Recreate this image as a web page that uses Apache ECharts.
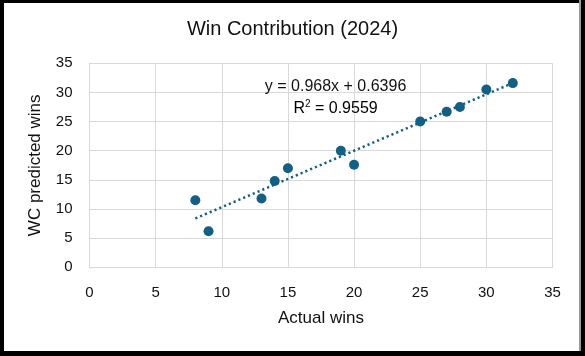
<!DOCTYPE html>
<html>
<head>
<meta charset="utf-8">
<script src="https://cdn.jsdelivr.net/npm/echarts@6/dist/echarts.min.js"></script>
<style>
html,body{margin:0;padding:0;background:#fff;}
#c{width:585px;height:356px;}
</style>
</head>
<body>
<div id="c"></div>
<script>
// Data
const actualWins    = [8, 9, 13, 14, 15, 19, 20, 25, 27, 28, 30, 32];
const predictedWins = [11.5, 6.2, 11.8, 14.8, 17.0, 20.0, 17.6, 25.0, 26.7, 27.5, 30.5, 31.6];
const xTicks = [0, 5, 10, 15, 20, 25, 30, 35];
const yTicks = [0, 5, 10, 15, 20, 25, 30, 35];
// Trendline coefficients as printed on the chart
const trendSlope = 0.968;
const trendIntercept = 0.6396;
const trendR2 = 0.9559;

const FONT = '"Liberation Sans", Arial, sans-serif';
const TEXT = '#111';
const GRID = '#d9d9d9';
const MARK = '#156082';

const points = actualWins.map((x, i) => [x, predictedWins[i]]);
const xMinD = Math.min(...actualWins), xMaxD = Math.max(...actualWins);
const trend = [[xMinD, trendSlope * xMinD + trendIntercept], [xMaxD, trendSlope * xMaxD + trendIntercept]];

const chart = echarts.init(document.getElementById('c'), null, {renderer: 'canvas'});
chart.setOption({
  animation: false,
  backgroundColor: '#fff',
  title: {
    text: 'Win Contribution (2024)',
    left: 'center', top: 14,
    textStyle: {fontFamily: FONT, fontSize: 20, fontWeight: 'normal', color: TEXT}
  },
  grid: {left: 89.5, right: 32.5, top: 63.3, bottom: 88.7, containLabel: false},
  xAxis: {
    type: 'value', min: xTicks[0], max: xTicks[xTicks.length - 1], interval: 5,
    name: 'Actual wins', nameLocation: 'middle', nameGap: 43,
    nameTextStyle: {fontFamily: FONT, fontSize: 17, color: TEXT},
    axisLine: {show: true, lineStyle: {color: GRID, width: 1}},
    axisTick: {show: false},
    axisLabel: {fontFamily: FONT, fontSize: 15, color: TEXT, margin: 18},
    splitLine: {show: true, lineStyle: {color: GRID, width: 1}}
  },
  yAxis: {
    type: 'value', min: yTicks[0], max: yTicks[yTicks.length - 1], interval: 5,
    name: 'WC predicted wins', nameLocation: 'middle', nameGap: 46,
    nameTextStyle: {fontFamily: FONT, fontSize: 17, color: TEXT},
    axisLine: {show: true, lineStyle: {color: GRID, width: 1}},
    axisTick: {show: false},
    axisLabel: {fontFamily: FONT, fontSize: 15, color: TEXT, margin: 17},
    splitLine: {show: true, lineStyle: {color: GRID, width: 1}}
  },
  series: [
    {
      type: 'line', data: trend, showSymbol: false, silent: true,
      lineStyle: {color: MARK, width: 2.5, type: [2.2, 3], cap: 'butt'},
      z: 2
    },
    {
      type: 'scatter', data: points, symbol: 'circle', symbolSize: 10,
      itemStyle: {color: MARK, opacity: 1}, z: 3
    }
  ]
});

// Equation label placed in data space via the chart's own converter
const eqPos = chart.convertToPixel({gridIndex: 0}, [18.6, 31.0]);
const r2Pos = chart.convertToPixel({gridIndex: 0}, [18.6, 27.3]);
chart.setOption({
  graphic: [
    {type: 'text', z: 10, silent: true, style: {text: 'y = ' + trendSlope + 'x + ' + trendIntercept, x: eqPos[0], y: eqPos[1], align: 'center', verticalAlign: 'middle', fontFamily: FONT, fontSize: 16, fill: TEXT}},
    {type: 'text', z: 10, silent: true, style: {text: '{n|R}{s|2}{n| = ' + trendR2 + '}', x: r2Pos[0], y: r2Pos[1], align: 'center', verticalAlign: 'middle', rich: {n: {fontFamily: FONT, fontSize: 16, color: TEXT}, s: {fontFamily: FONT, fontSize: 10, color: TEXT, padding: [0, 0, 8, 0]}}}},
    {type: 'rect', z: 100, silent: true, shape: {x: 0, y: 0, width: 585, height: 3}, style: {fill: '#000'}},
    {type: 'rect', z: 100, silent: true, shape: {x: 0, y: 0, width: 4, height: 356}, style: {fill: '#000'}},
    {type: 'rect', z: 100, silent: true, shape: {x: 579, y: 0, width: 2, height: 356}, style: {fill: '#9a9a9a'}},
    {type: 'rect', z: 100, silent: true, shape: {x: 581, y: 0, width: 4, height: 356}, style: {fill: '#000'}},
    {type: 'rect', z: 100, silent: true, shape: {x: 0, y: 351, width: 585, height: 5}, style: {fill: '#000'}}
  ]
});
</script>
</body>
</html>
